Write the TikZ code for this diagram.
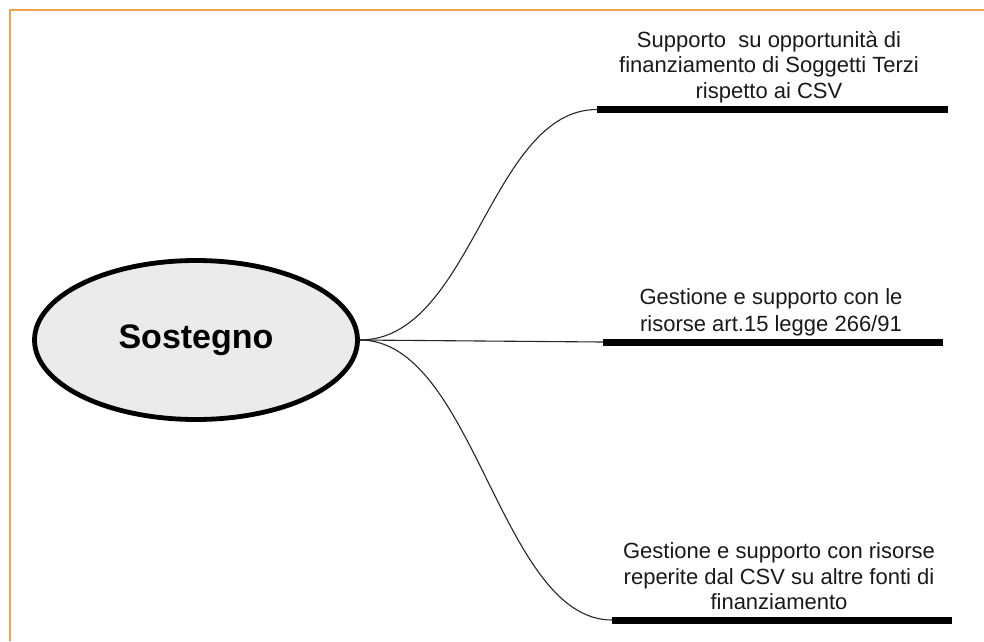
\documentclass[tikz,border=0pt]{standalone}
\usepackage{fontspec}
\setmainfont{Liberation Sans}
\usetikzlibrary{shapes.geometric}
\definecolor{frameorange}{HTML}{F5A24C}
\definecolor{hubfill}{HTML}{EBEBEB}
\begin{document}
\begin{tikzpicture}[x=1pt,y=-1pt,
  hub/.style={ellipse, draw=black, line width=4.8pt, fill=hubfill,
    minimum width=323pt, minimum height=159pt, inner sep=0pt,
    font=\fontsize{34}{40}\selectfont\bfseries},
  bar/.style={line width=7pt, black},
  branch/.style={line width=1.1pt, black!85},
  leaf/.style={align=center, inner sep=0pt, anchor=south, text=black!90,
    font=\fontsize{22}{25.5}\selectfont}]
  \useasboundingbox (0,0) rectangle (984,641);
  % frame along the top and left edges
  \draw[frameorange, line width=2pt] (10,641) -- (10,9.5) -- (984,9.5);

  % central topic
  \node[hub] (hub) at (196,340) {Sostegno};

  % end points of the three underlined branches
  \coordinate (b1l) at (597,109.5);  \coordinate (b1r) at (948,109.5);
  \coordinate (b2l) at (603,342);    \coordinate (b2r) at (943,342);
  \coordinate (b3l) at (612,620);    \coordinate (b3r) at (952,620);

  % branches from the central topic
  \draw[branch] (hub.east) .. controls (472,340) and (490,109.5) .. (b1l);
  \draw[branch] (hub.east) -- (b2l);
  \draw[branch] (hub.east) .. controls (475,340) and (500,620) .. (b3l);

  % thick underlines
  \draw[bar] (b1l) -- (b1r);
  \draw[bar] (b2l) -- (b2r);
  \draw[bar] (b3l) -- (b3r);

  % branch labels
  \node[leaf] (t1) at (769,103) {Supporto\ \ su opportunità di\\finanziamento di Soggetti Terzi\\rispetto ai CSV};
  \node[leaf, font=\fontsize{22}{27}\selectfont] (t2) at (771,336.5) {Gestione e supporto con le\\risorse art.15 legge 266/91};
  \node[leaf] (t3) at (779,610) {Gestione e supporto con risorse\\reperite dal CSV su altre fonti di\\finanziamento};
\end{tikzpicture}
\end{document}
